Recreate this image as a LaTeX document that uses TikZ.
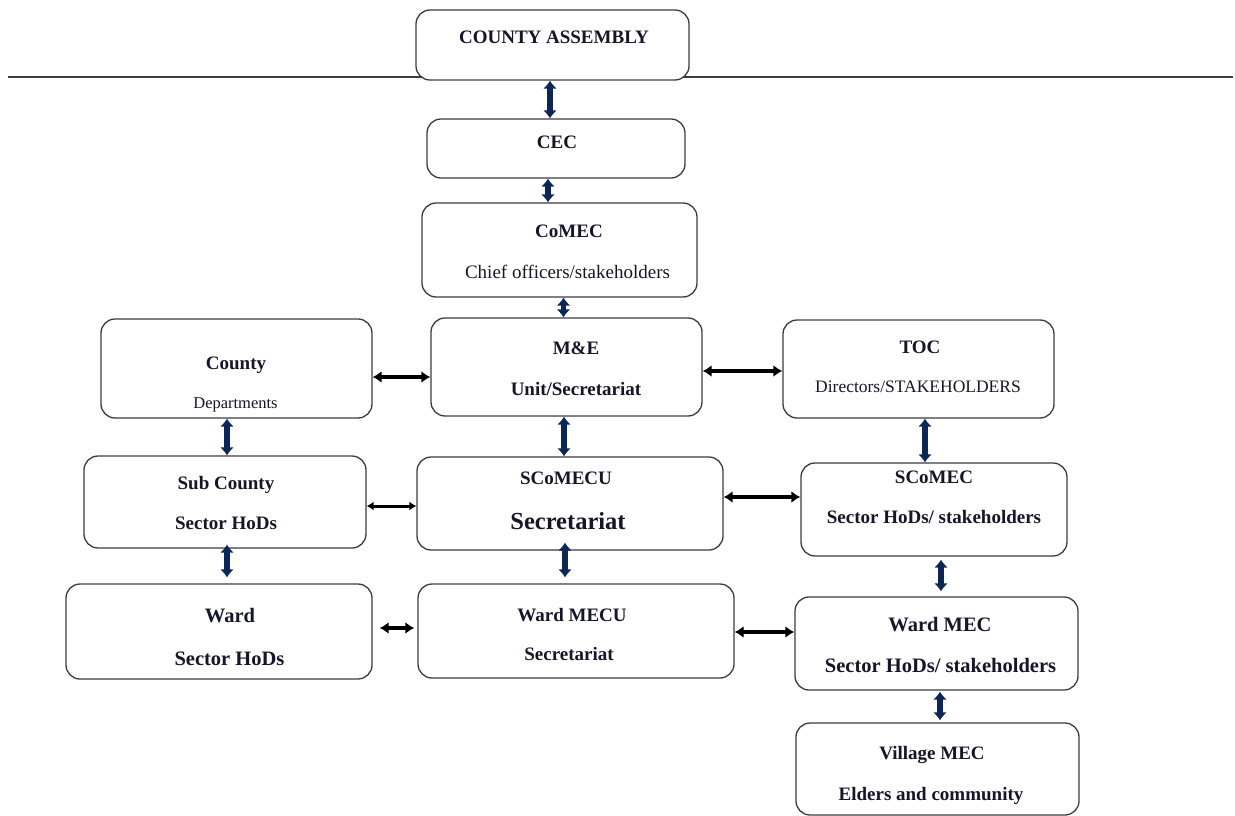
\documentclass[tikz,border=0pt]{standalone}
\usepackage{fontspec}
\setmainfont{LiberationSerif}[Extension=.ttf, UprightFont=*-Regular, BoldFont=*-Bold, ItalicFont=*-Italic, BoldItalicFont=*-BoldItalic]
\usetikzlibrary{arrows.meta}
\definecolor{navy}{RGB}{12,38,88}
\definecolor{boxc}{RGB}{60,60,60}
\definecolor{textc}{RGB}{22,22,40}
\begin{document}
\begin{tikzpicture}[x=1pt,y=-1pt,
  box/.style={draw=boxc, line width=1.3pt, rounded corners=14pt, fill=white, inner sep=0pt},
  tb/.style={font=\bfseries\fontsize{19}{19}\selectfont, anchor=base, text=textc, inner sep=0pt},
  tr/.style={font=\fontsize{19}{19}\selectfont, anchor=base, text=textc, inner sep=0pt},
  varr/.style={draw=navy, line width=5.5pt, {Latex[length=8pt,width=14pt]}-{Latex[length=8pt,width=14pt]}},
  harr/.style={draw=black, line width=4.5pt, {Latex[length=9pt,width=12pt]}-{Latex[length=9pt,width=12pt]}},
  harrthin/.style={draw=black, line width=3pt, {Latex[length=7pt,width=9pt]}-{Latex[length=7pt,width=9pt]}}]
\useasboundingbox (0,0) rectangle (1235,816);
\coordinate (hl) at (8,77);
\coordinate (hr) at (1233,77);
\draw[line width=1.3pt, boxc] (hl) -- (hr);
% boxes
\node[box, minimum width=273pt, minimum height=70pt] (ca) at (552.5,45) {};
\node[box, minimum width=258pt, minimum height=59pt] (cec) at (556,148.5) {};
\node[box, minimum width=275pt, minimum height=94pt] (comec) at (559.5,250) {};
\node[box, minimum width=271pt, minimum height=99pt] (cd) at (236.5,368.5) {};
\node[box, minimum width=271pt, minimum height=98pt] (me) at (566.5,367) {};
\node[box, minimum width=271pt, minimum height=98pt] (toc) at (918.5,369) {};
\node[box, minimum width=282pt, minimum height=92pt] (sub) at (225,502) {};
\node[box, minimum width=306pt, minimum height=93pt] (scu) at (570,503.5) {};
\node[box, minimum width=266pt, minimum height=93pt] (sc) at (934,509.5) {};
\node[box, minimum width=306pt, minimum height=95pt] (ward) at (219,631.5) {};
\node[box, minimum width=316pt, minimum height=94pt] (wmecu) at (576,631) {};
\node[box, minimum width=283pt, minimum height=93pt] (wmec) at (936.5,643.5) {};
\node[box, minimum width=283pt, minimum height=92pt] (vmec) at (937.5,769) {};
% labels
\node[tb] (t1) at (554,44) {COUNTY ASSEMBLY};
\node[tb] (t2) at (557,148) {CEC};
\node[tb] (t3) at (569,237) {CoMEC};
\node[tr] (t4) at (567.5,278) {Chief officers/stakeholders};
\node[tb] (t5) at (236,369) {County};
\node[tr, font=\fontsize{16.5}{16.5}\selectfont] (t6) at (235.5,408) {Departments};
\node[tb] (t7) at (576,354) {M\&E};
\node[tb] (t8) at (576,395) {Unit/Secretariat};
\node[tb] (t9) at (920,353) {TOC};
\node[tr, font=\fontsize{17.5}{17.5}\selectfont] (t10) at (918,392) {Directors/STAKEHOLDERS};
\node[tb] (t11) at (226,489) {Sub County};
\node[tb] (t12) at (226,529) {Sector HoDs};
\node[tb] (t13) at (566,484) {SCoMECU};
\node[tb, font=\bfseries\fontsize{24.5}{24.5}\selectfont] (t14) at (568,529) {Secretariat};
\node[tb] (t15) at (934,483) {SCoMEC};
\node[tb] (t16) at (934,523) {Sector HoDs/ stakeholders};
\node[tb, font=\bfseries\fontsize{20.5}{20.5}\selectfont] (t17) at (230,622) {Ward};
\node[tb, font=\bfseries\fontsize{20.5}{20.5}\selectfont] (t18) at (229.5,665) {Sector HoDs};
\node[tb] (t19) at (572,621) {Ward MECU};
\node[tb] (t20) at (569,660) {Secretariat};
\node[tb, font=\bfseries\fontsize{20.5}{20.5}\selectfont] (t21) at (940,631) {Ward MEC};
\node[tb, font=\bfseries\fontsize{20.5}{20.5}\selectfont] (t22) at (940.5,672) {Sector HoDs/ stakeholders};
\node[tb] (t23) at (932,759) {Village MEC};
\node[tb] (t24) at (931,800) {Elders and community};
% vertical arrows
\draw[varr] ([xshift=-2.5pt]ca.south) -- ([xshift=-2.5pt]ca.south |- cec.north);
\draw[varr] ([xshift=-8pt]cec.south) -- ([xshift=-8pt]cec.south |- comec.north);
\draw[varr] ([xshift=4pt]comec.south) -- ([xshift=4pt]comec.south |- me.north);
\draw[varr] ([xshift=-9.5pt]cd.south) -- ([xshift=-9.5pt]cd.south |- sub.north);
\draw[varr] ([xshift=-2.5pt]me.south) -- ([xshift=-2.5pt]me.south |- scu.north);
\draw[varr] ([xshift=6.5pt]toc.south) -- ([xshift=6.5pt]toc.south |- sc.north);
\draw[varr] ([xshift=2pt,yshift=4pt]sub.south) -- ([xshift=2pt,yshift=6pt]sub.south |- ward.north);
\draw[varr] ([xshift=-5pt,yshift=8pt]scu.south) -- ([xshift=-5pt,yshift=6pt]scu.south |- wmecu.north);
\draw[varr] ([xshift=7pt,yshift=-3pt]sc.south) -- ([xshift=7pt,yshift=5pt]sc.south |- wmec.north);
\draw[varr] ([xshift=3.5pt,yshift=-1pt]wmec.south) -- ([xshift=3.5pt,yshift=2pt]wmec.south |- vmec.north);
% horizontal arrows
\draw[harr] ([yshift=-8.5pt]cd.east) -- ([yshift=-8.5pt]cd.east -| me.west);
\draw[harr] ([yshift=-4pt]me.east) -- ([yshift=-4pt]me.east -| toc.west);
\draw[harrthin] ([yshift=-4pt]sub.east) -- ([yshift=-4pt]sub.east -| scu.west);
\draw[harr] ([yshift=6.5pt]scu.east) -- ([yshift=6.5pt]scu.east -| sc.west);
\draw[harr] ([xshift=7pt,yshift=3.5pt]ward.east) -- ([xshift=-3pt,yshift=3.5pt]ward.east -| wmecu.west);
\draw[harr] ([yshift=-1pt]wmecu.east) -- ([yshift=-1pt]wmecu.east -| wmec.west);
\end{tikzpicture}
\end{document}
